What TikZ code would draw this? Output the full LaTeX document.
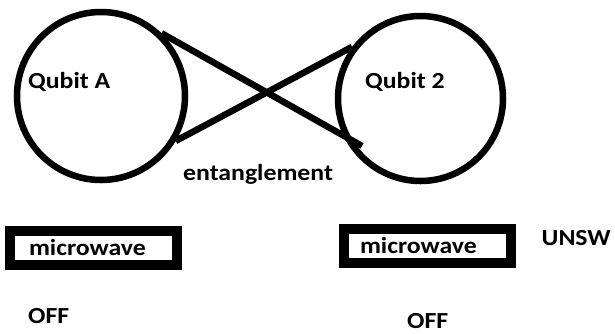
\documentclass[tikz,border=0pt]{standalone}
\usepackage{fontspec}
\setmainfont{Carlito}
\newfontfamily\lblfont[FakeStretch=1.12]{Carlito}
\begin{document}
\begin{tikzpicture}[x=1pt,y=-1pt,
  qubit/.style={circle,draw,line width=6.5pt,inner sep=0pt},
  link/.style={line width=6.5pt},
  lbl/.style={font=\lblfont\fontsize{23}{26}\selectfont\bfseries,inner sep=0pt,anchor=base west},
  mwbox/.style={draw,line width=10pt,align=left,inner ysep=0pt,minimum height=33.5pt,font=\lblfont\fontsize{23}{26}\selectfont\bfseries}]
\useasboundingbox (0,0) rectangle (615,333);
\node[qubit,minimum size=168pt] (qa) at (101,96) {};
\node[qubit,minimum size=165pt] (qb) at (420.5,98.5) {};
\coordinate (e1) at (362,146);
\draw[link] (qa.46) -- (e1);
\draw[link] (qa.-31) -- (qb.143);
\node[lbl] (ta) at (28,88) {Qubit A};
\node[lbl] (tb) at (365,88) {Qubit 2};
\node[lbl] (ent) at (183,180) {entanglement};
\node[mwbox,inner xsep=19.5pt,text width=128.5pt] (m1) at (93.25,247.75) {microwave};
\node[mwbox,inner xsep=16pt,text width=134.5pt] (m2) at (427.25,246) {microwave};
\node[lbl,anchor=base east] (unsw) at (611,245) {UNSW};
\node[lbl] (off1) at (28,323) {OFF};
\node[lbl] (off2) at (407,328) {OFF};
\end{tikzpicture}
\end{document}
